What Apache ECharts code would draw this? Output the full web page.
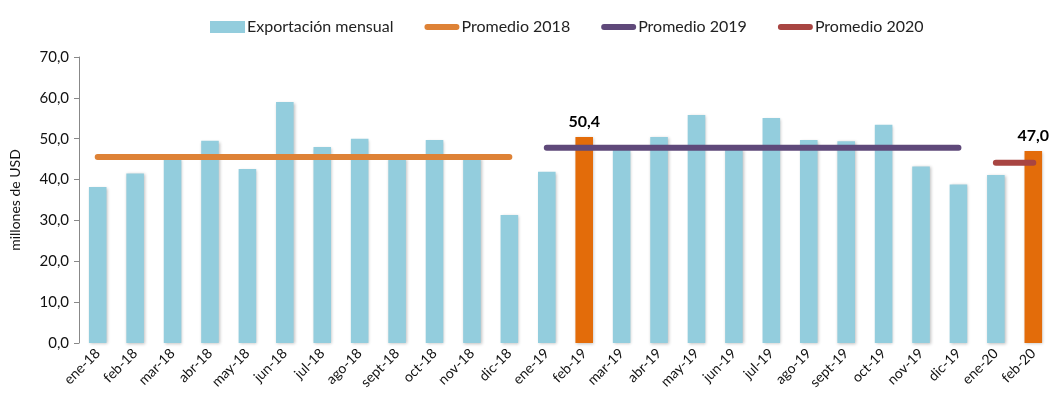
<!DOCTYPE html>
<html>
<head>
<meta charset="utf-8">
<script src="https://cdn.jsdelivr.net/npm/echarts@6/dist/echarts.min.js"></script>
<style>
  html, body { margin: 0; padding: 0; background: #fff; }
  #chart { width: 1054px; height: 403px; }
</style>
</head>
<body>
<div id="chart"></div>
<script>
// meses
var categories = ['ene-18','feb-18','mar-18','abr-18','may-18','jun-18','jul-18','ago-18','sept-18','oct-18','nov-18','dic-18',
                  'ene-19','feb-19','mar-19','abr-19','may-19','jun-19','jul-19','ago-19','sept-19','oct-19','nov-19','dic-19',
                  'ene-20','feb-20'];
// exportación mensual (millones de USD)
var exportacion = [38.2, 41.5, 45.0, 49.5, 42.6, 59.0, 48.0, 50.0, 45.3, 49.7, 45.2, 31.3,
                   41.9, 50.4, 47.3, 50.4, 55.8, 47.5, 55.1, 49.7, 49.4, 53.4, 43.2, 38.8,
                   41.1, 47.0];
// meses resaltados con etiqueta
var resaltados = ['feb-19', 'feb-20'];
// promedios anuales
var prom2018 = 45.5;
var prom2019 = 47.8;
var prom2020 = 44.1;
var yTicks = [0, 10, 20, 30, 40, 50, 60, 70];

var fontFam = 'Lato, "Open Sans", sans-serif';
// icono de linea gruesa con puntas redondas para la leyenda
var lineIcon = 'path://M0,0 M36,12 M3,3 L33,3 A3,3 0 0 1 33,9 L3,9 A3,3 0 0 1 3,3 Z';

function promLine(suffix, val) {
  return categories.map(function (c) { return c.slice(-2) === suffix ? val : null; });
}

var barData = exportacion.map(function (v, i) {
  if (resaltados.indexOf(categories[i]) >= 0) {
    return {
      value: v,
      itemStyle: { color: '#E36C0A' },
      label: {
        show: true, position: 'top', distance: 7,
        fontFamily: fontFam, fontWeight: 'bold', fontSize: 16, color: '#000',
        formatter: function (p) { return p.value.toFixed(1).replace('.', ','); }
      }
    };
  }
  return v;
});

var chart = echarts.init(document.getElementById('chart'));
chart.setOption({
  animation: false,
  textStyle: { fontFamily: fontFam },
  legend: {
    top: 14,
    left: 205,
    itemGap: 31,
    itemWidth: 35,
    itemHeight: 12,
    textStyle: { fontFamily: fontFam, fontSize: 16, color: '#222', padding: [0, 0, 0, -3] },
    data: [
      { name: 'Exportación mensual', icon: 'rect' },
      { name: 'Promedio 2018', icon: lineIcon },
      { name: 'Promedio 2019', icon: lineIcon },
      { name: 'Promedio 2020', icon: lineIcon }
    ]
  },
  grid: { left: 79, right: 2, top: 57, bottom: 60 },
  xAxis: {
    type: 'category',
    data: categories,
    axisLine: { show: false },
    axisTick: { show: false },
    axisLabel: { rotate: 45, interval: 0, margin: 8, fontFamily: fontFam, fontSize: 14, color: '#111' }
  },
  yAxis: {
    type: 'value',
    min: yTicks[0],
    max: yTicks[yTicks.length - 1],
    interval: 10,
    name: 'millones de USD',
    nameLocation: 'middle',
    nameRotate: 90,
    nameGap: 57,
    nameTextStyle: { fontFamily: fontFam, fontSize: 14, color: '#111' },
    axisLine: { show: true, lineStyle: { color: '#888', width: 1 } },
    axisTick: { show: true, length: 5, lineStyle: { color: '#888' } },
    splitLine: { show: false },
    axisLabel: {
      margin: 10, fontFamily: fontFam, fontSize: 15, color: '#111',
      formatter: function (v) { return v.toFixed(1).replace('.', ','); }
    }
  },
  series: [
    {
      name: 'Exportación mensual',
      type: 'bar',
      barWidth: '47%',
      data: barData,
      itemStyle: {
        color: '#93CDDD',
        shadowColor: 'rgba(0,0,0,0.25)', shadowBlur: 3, shadowOffsetX: 1, shadowOffsetY: 1
      },
      z: 2
    },
    {
      name: 'Promedio 2018', type: 'line', data: promLine('18', prom2018),
      showSymbol: false, symbol: 'none', z: 3,
      itemStyle: { color: '#DE8236' },
      lineStyle: { color: '#DE8236', width: 6, cap: 'round' }
    },
    {
      name: 'Promedio 2019', type: 'line', data: promLine('19', prom2019),
      showSymbol: false, symbol: 'none', z: 3,
      itemStyle: { color: '#5F497A' },
      lineStyle: { color: '#5F497A', width: 6, cap: 'round' }
    },
    {
      name: 'Promedio 2020', type: 'line', data: promLine('20', prom2020),
      showSymbol: false, symbol: 'none', z: 3,
      itemStyle: { color: '#A84542' },
      lineStyle: { color: '#A84542', width: 6, cap: 'round' }
    }
  ]
});
</script>
</body>
</html>
